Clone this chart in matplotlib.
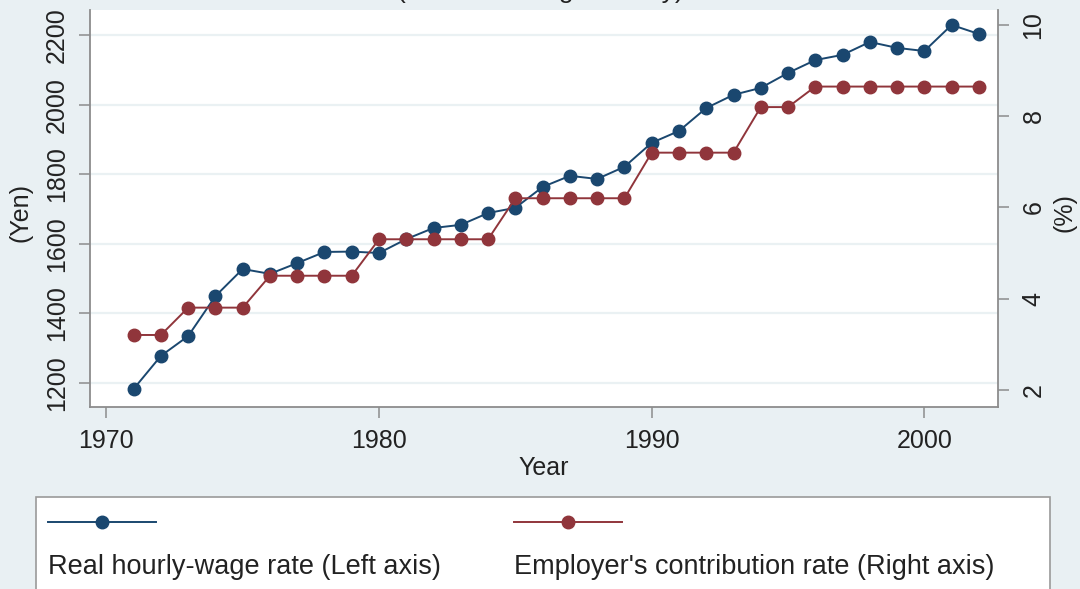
import numpy as np
import matplotlib
matplotlib.use('Agg')
import matplotlib.pyplot as plt
from matplotlib.lines import Line2D
from matplotlib.patches import Rectangle

plt.rcParams['font.family'] = ['Liberation Sans', 'DejaVu Sans']

# -------------- DATA --------------

years = list(range(1971, 2003))

# Real hourly-wage rate, yen (left axis)
wage = [1183, 1278, 1335, 1450, 1528, 1514, 1545, 1577, 1578, 1574,
        1614, 1646, 1655, 1689, 1704, 1764, 1796, 1787, 1822, 1891,
        1925, 1991, 2029, 2049, 2092, 2129, 2144, 2181, 2164, 2155,
        2230, 2204]

# Employer's contribution rate, % (right axis)
contrib = [3.2, 3.2, 3.8, 3.8, 3.8, 4.5, 4.5, 4.5, 4.5, 5.3,
           5.3, 5.3, 5.3, 5.3, 6.2, 6.2, 6.2, 6.2, 6.2, 7.2,
           7.2, 7.2, 7.2, 8.2, 8.2, 8.65, 8.65, 8.65, 8.65, 8.65,
           8.65, 8.65]

x_ticks = [1970, 1980, 1990, 2000]
left_ticks = [1200, 1400, 1600, 1800, 2000, 2200]
right_ticks = [2, 4, 6, 8, 10]

labels = ['Real hourly-wage rate (Left axis)',
          "Employer's contribution rate (Right axis)"]

# -------------- STYLE --------------

bg = '#e9f0f3'
blue = '#1a476f'
red = '#90353b'
axis_gray = '#8c8c8c'
W, H = 1080, 589

fig = plt.figure(figsize=(W / 100, H / 100), dpi=100, facecolor=bg)
ax = fig.add_axes([90 / W, 1 - 407 / H, (998 - 90) / W, (407 - 10) / H])
ax.set_facecolor('white')
ax2 = ax.twinx()

ax.plot(years, wage, color=blue, lw=1.4, marker='o', ms=9, zorder=3)
ax2.plot(years, contrib, color=red, lw=1.4, marker='o', ms=9, zorder=3)

ax.set_xlim(1969.4, 2002.7)
ax.set_ylim(1131, 2273)
ax2.set_ylim(1.62, 10.33)

ax.set_xticks(x_ticks)
ax.set_yticks(left_ticks)
ax2.set_yticks(right_ticks)

for a in (ax, ax2):
    for s in a.spines.values():
        s.set_visible(False)
for side in ('left', 'bottom'):
    ax.spines[side].set_visible(True)
    ax.spines[side].set_color(axis_gray)
    ax.spines[side].set_linewidth(1.3)
ax2.spines['right'].set_visible(True)
ax2.spines['right'].set_color(axis_gray)
ax2.spines['right'].set_linewidth(1.3)

# light horizontal grid at left-axis ticks
ax.yaxis.grid(True, color='#eaf1f3', lw=1.6)
ax.set_axisbelow(True)

tick_kw = dict(length=8, width=1.1, color=axis_gray, labelcolor='#222222',
               labelsize=18)
ax.tick_params(axis='x', pad=8, **tick_kw)
ax.tick_params(axis='y', pad=7, labelrotation=90, **tick_kw)
ax2.tick_params(axis='y', pad=9, labelrotation=90, **tick_kw)
for lab in ax.get_yticklabels() + ax2.get_yticklabels():
    lab.set_va('center')

ax.set_xlabel('Year', fontsize=18, color='#222222')
ax.xaxis.set_label_coords(0.5, -0.123)
ax.set_ylabel('(Yen)', fontsize=18, color='#222222')
ax.yaxis.set_label_coords(-0.063, 0.49)
ax2.set_ylabel('(%)', fontsize=18, color='#222222', rotation=90)
ax2.yaxis.set_label_coords(1.0595, 0.49)

# subtitle, cut off at the top edge
fig.text(0.5, 1 + 9 / H, '(Manufacturing Industry)', ha='center',
         va='center', fontsize=19, color='#222222')

# -------------- LEGEND --------------

box = Rectangle((36 / W, -0.05), (1050 - 36) / W, 0.05 + 1 - 497 / H,
                transform=fig.transFigure, facecolor='white',
                edgecolor='#9a9a9a', lw=1.2)
fig.patches.append(box)

for x0, col, lab in [(48, blue, labels[0]), (514, red, labels[1])]:
    fig.add_artist(Line2D([x0 / W, (x0 + 108) / W], [1 - 522 / H] * 2,
                          color=col, lw=1.4, transform=fig.transFigure))
    fig.add_artist(Line2D([(x0 + 54) / W], [1 - 522 / H], color=col,
                          marker='o', ms=9, transform=fig.transFigure))
    fig.text(x0 / W, 1 - 567 / H, lab, ha='left', va='center',
             fontsize=19.5, color='#222222')

fig.savefig('out.png', dpi=100, facecolor=bg)
